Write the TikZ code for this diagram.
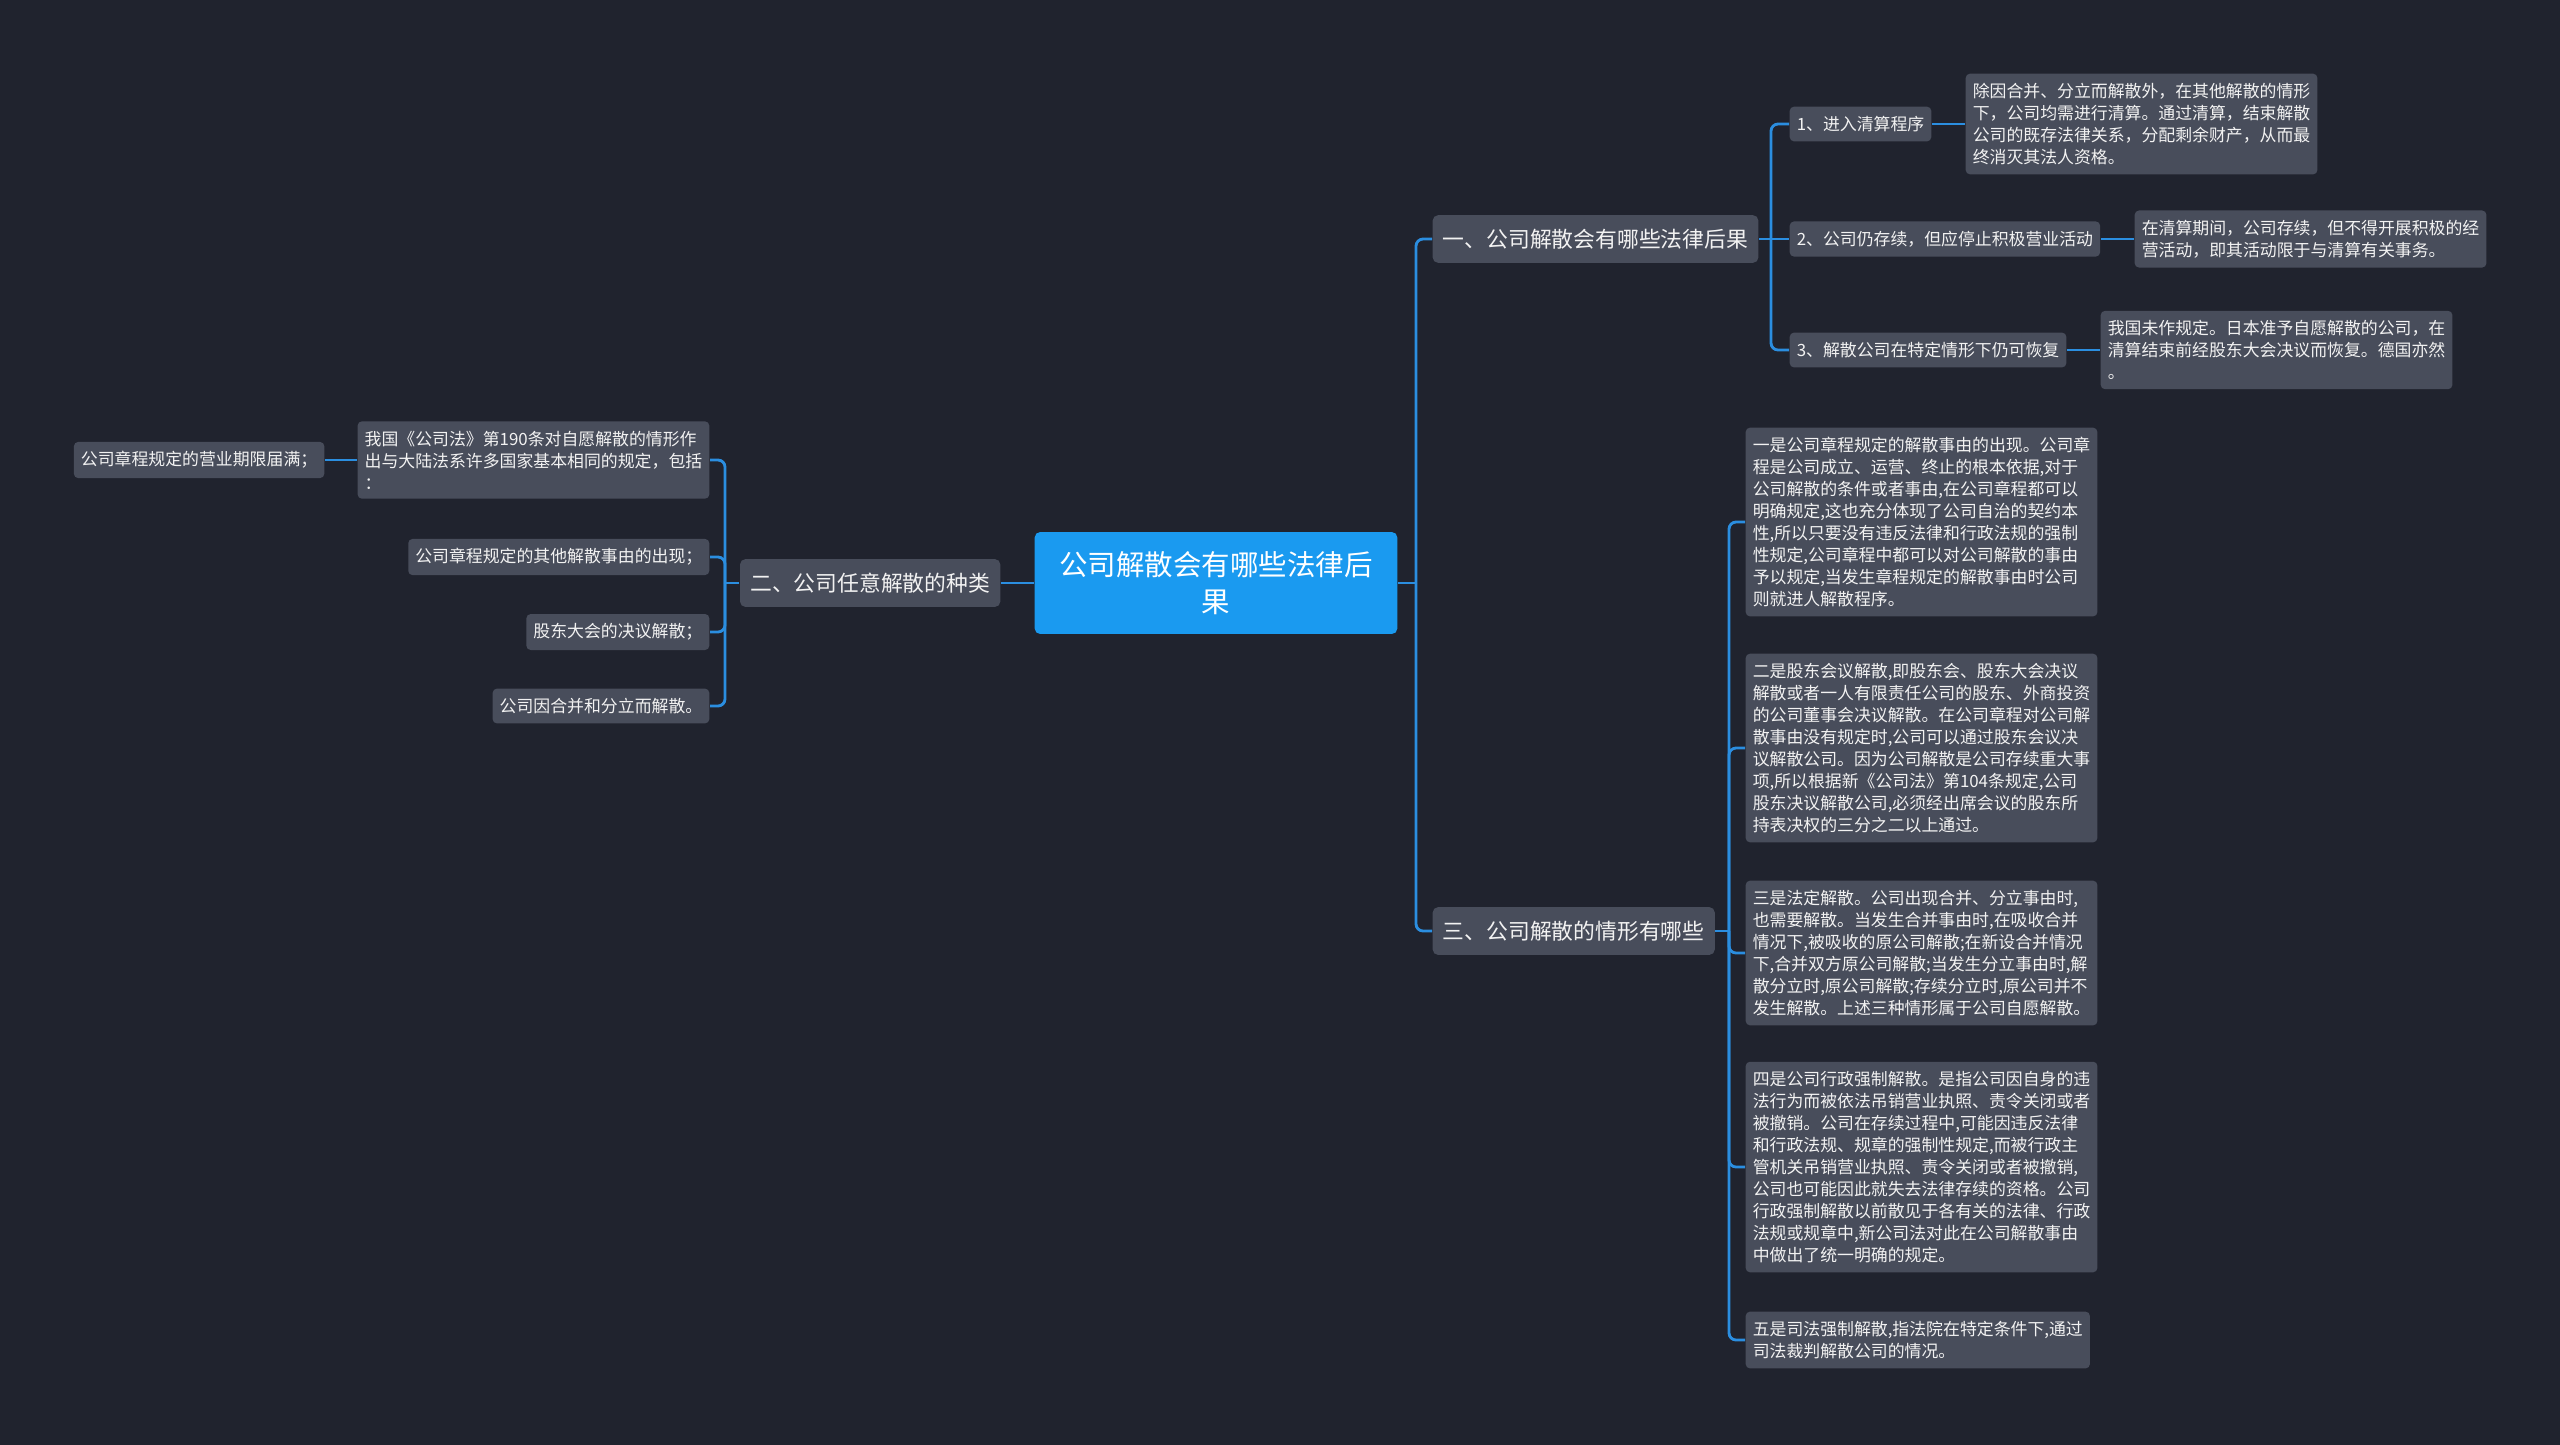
\documentclass[tikz,border=0pt]{standalone}
\usepackage{fontspec}
\setmainfont{Noto Sans CJK SC}
\usepackage{xcolor}
\usepackage{tikz}
\usetikzlibrary{positioning,calc}

\definecolor{bgnavy}{HTML}{20232E}
\definecolor{boxgrey}{HTML}{484D5B}
\definecolor{rootblue}{HTML}{1A9AF0}
\definecolor{linkblue}{HTML}{2B8EE0}
\definecolor{txtwhite}{HTML}{F2F2F2}

\begin{document}
\begin{tikzpicture}[x=0.01cm, y=-0.01cm,
  root/.style={fill=rootblue, rounded corners=1.5pt, text=white, align=center,
               inner xsep=7pt, inner ysep=5.4pt, font=\fontsize{8.1}{10.7}\selectfont},
  topic/.style={fill=boxgrey, rounded corners=1.5pt, text=txtwhite,
               inner xsep=2.9pt, inner ysep=3.9pt, font=\fontsize{6.2}{7.5}\selectfont},
  leaf/.style={fill=boxgrey, rounded corners=1.2pt, text=txtwhite, align=left,
               inner xsep=2pt, inner ysep=2.7pt, font=\fontsize{4.8}{6.25}\selectfont},
  link/.style={draw=linkblue, line width=0.8pt, rounded corners=2pt}]

  % canvas
  \useasboundingbox (0,0) rectangle (2560,1444);
  \fill[bgnavy] (-10,-10) rectangle (2570,1454);

  % root and first level
  \node[root] (R) at (1216,583) {公司解散会有哪些法律后\\果};
  \node[topic, anchor=west] (CQ) at (1432,239) {一、公司解散会有哪些法律后果};
  \node[topic, anchor=east] (TY) at (1001,583) {二、公司任意解散的种类};
  \node[topic, anchor=west] (SI) at (1432,931) {三、公司解散的情形有哪些};

  % branch one: consequences
  \node[leaf, anchor=west] (Q1) at (1789,124) {1、进入清算程序};
  \node[leaf, anchor=west] (Q2) at (1789,239) {2、公司仍存续，但应停止积极营业活动};
  \node[leaf, anchor=west] (Q3) at (1789,350) {3、解散公司在特定情形下仍可恢复};
  \node[leaf, anchor=west] (QD1) at (1965,124)
    {除因合并、分立而解散外，在其他解散的情形\\下，公司均需进行清算。通过清算，结束解散\\公司的既存法律关系，分配剩余财产，从而最\\终消灭其法人资格。};
  \node[leaf, anchor=west] (QD2) at (2134,239)
    {在清算期间，公司存续，但不得开展积极的经\\营活动，即其活动限于与清算有关事务。};
  \node[leaf, anchor=west] (QD3) at (2100,350)
    {我国未作规定。日本准予自愿解散的公司，在\\清算结束前经股东大会决议而恢复。德国亦然\\。};

  % branch two: types
  \node[leaf, anchor=east] (T1) at (710,460)
    {我国《公司法》第190条对自愿解散的情形作\\出与大陆法系许多国家基本相同的规定，包括\\：};
  \node[leaf, anchor=east] (T0) at (325,460) {公司章程规定的营业期限届满；};
  \node[leaf, anchor=east] (T2) at (710,557) {公司章程规定的其他解散事由的出现；};
  \node[leaf, anchor=east] (T3) at (710,632) {股东大会的决议解散；};
  \node[leaf, anchor=east] (T4) at (710,706) {公司因合并和分立而解散。};

  % branch three: situations
  \node[leaf, anchor=west] (S1) at (1745,522)
    {一是公司章程规定的解散事由的出现。公司章\\程是公司成立、运营、终止的根本依据,对于\\公司解散的条件或者事由,在公司章程都可以\\明确规定,这也充分体现了公司自治的契约本\\性,所以只要没有违反法律和行政法规的强制\\性规定,公司章程中都可以对公司解散的事由\\予以规定,当发生章程规定的解散事由时公司\\则就进人解散程序。};
  \node[leaf, anchor=west] (S2) at (1745,748)
    {二是股东会议解散,即股东会、股东大会决议\\解散或者一人有限责任公司的股东、外商投资\\的公司董事会决议解散。在公司章程对公司解\\散事由没有规定时,公司可以通过股东会议决\\议解散公司。因为公司解散是公司存续重大事\\项,所以根据新《公司法》第104条规定,公司\\股东决议解散公司,必须经出席会议的股东所\\持表决权的三分之二以上通过。};
  \node[leaf, anchor=west] (S3) at (1745,953)
    {三是法定解散。公司出现合并、分立事由时,\\也需要解散。当发生合并事由时,在吸收合并\\情况下,被吸收的原公司解散;在新设合并情况\\下,合并双方原公司解散;当发生分立事由时,解\\散分立时,原公司解散;存续分立时,原公司并不\\发生解散。上述三种情形属于公司自愿解散。};
  \node[leaf, anchor=west] (S4) at (1745,1167)
    {四是公司行政强制解散。是指公司因自身的违\\法行为而被依法吊销营业执照、责令关闭或者\\被撤销。公司在存续过程中,可能因违反法律\\和行政法规、规章的强制性规定,而被行政主\\管机关吊销营业执照、责令关闭或者被撤销,\\公司也可能因此就失去法律存续的资格。公司\\行政强制解散以前散见于各有关的法律、行政\\法规或规章中,新公司法对此在公司解散事由\\中做出了统一明确的规定。};
  \node[leaf, anchor=west] (S5) at (1745,1340)
    {五是司法强制解散,指法院在特定条件下,通过\\司法裁判解散公司的情况。};

  % spine points
  \coordinate (rs) at (1416,583);
  \coordinate (qs) at (1771,239);
  \coordinate (ts) at (725,583);
  \coordinate (ss) at (1729,931);

  % root links
  \draw[link] (R.west) -- (TY.east);
  \draw[link] (R.east) -- (rs);
  \draw[link] (rs) |- (CQ.west);
  \draw[link] (rs) |- (SI.west);

  % branch one links
  \draw[link] (CQ.east) -- (qs);
  \draw[link] (qs) |- (Q1.west);
  \draw[link] (qs) -- (Q2.west);
  \draw[link] (qs) |- (Q3.west);
  \draw[link] (Q1.east) -- (QD1.west);
  \draw[link] (Q2.east) -- (QD2.west);
  \draw[link] (Q3.east) -- (QD3.west);

  % branch two links
  \draw[link] (TY.west) -- (ts);
  \draw[link] (ts) |- (T1.east);
  \draw[link] (ts) |- (T2.east);
  \draw[link] (ts) |- (T3.east);
  \draw[link] (ts) |- (T4.east);
  \draw[link] (T1.west) -- (T0.east);

  % branch three links
  \draw[link] (SI.east) -- (ss);
  \draw[link] (ss) |- (S1.west);
  \draw[link] (ss) |- (S2.west);
  \draw[link] (ss) |- (S3.west);
  \draw[link] (ss) |- (S4.west);
  \draw[link] (ss) |- (S5.west);
\end{tikzpicture}
\end{document}
